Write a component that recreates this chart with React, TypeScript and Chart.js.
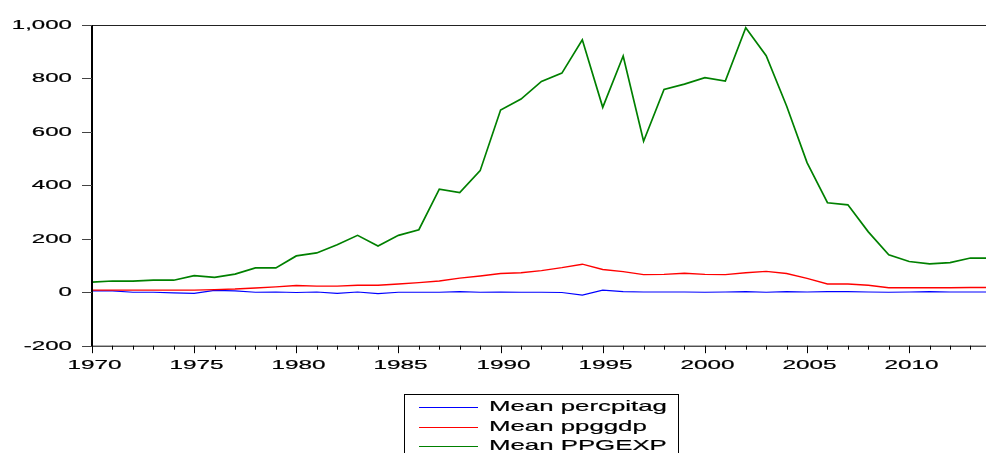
import React, { useEffect, useRef } from "react";
import { Chart, registerables } from "chart.js";

Chart.register(...registerables);

const years: number[] = [
  1970, 1971, 1972, 1973, 1974, 1975, 1976, 1977, 1978, 1979,
  1980, 1981, 1982, 1983, 1984, 1985, 1986, 1987, 1988, 1989,
  1990, 1991, 1992, 1993, 1994, 1995, 1996, 1997, 1998, 1999,
  2000, 2001, 2002, 2003, 2004, 2005, 2006, 2007, 2008, 2009,
  2010, 2011, 2012, 2013, 2014,
];

const percpitag: number[] = [
  5, 5, 0, 0, -2, -4, 7, 5, 0, 1,
  -1, 1, -4, 1, -5, 0, 0, 0, 2, 0,
  1, 0, 0, -1, -11, 8, 2, 1, 1, 1,
  0, 1, 2, 0, 2, 1, 2, 2, 1, 0,
  1, 2, 1, 1, 1,
];

const ppggdp: number[] = [
  8, 8, 8, 8, 8, 8, 10, 12, 16, 20,
  25, 23, 23, 26, 26, 31, 36, 42, 53, 61,
  70, 73, 81, 92, 105, 85, 77, 66, 67, 71,
  67, 66, 73, 78, 70, 52, 31, 31, 26, 17,
  17, 17, 17, 18, 18,
];

const ppgexp: number[] = [
  38, 42, 42, 45, 45, 62, 56, 68, 91, 91,
  136, 147, 178, 213, 173, 213, 234, 386, 373, 455,
  682, 723, 789, 820, 945, 692, 884, 565, 759, 779,
  803, 790, 990, 885, 697, 485, 335, 327, 226, 140,
  115, 106, 111, 128, 128,
];

const seriesLabels: string[] = ["Mean percpitag", "Mean ppggdp", "Mean PPGEXP"];
const seriesColors: string[] = ["#0000ff", "#ff0000", "#008000"];
const seriesWidths: number[] = [1.2, 1.4, 1.7];

const yMin = -200;
const yMax = 1000;
const yStep = 200;
const xMin = 1970;
const xMax = 2013.76;
const labelEvery = 5;

const FONT = "'Liberation Sans', Arial, sans-serif";

function stretchText(
  ctx: CanvasRenderingContext2D,
  text: string,
  x: number,
  y: number,
  align: CanvasTextAlign,
  sx: number,
  size: number
) {
  ctx.save();
  ctx.translate(x, y);
  ctx.scale(sx, 1);
  ctx.font = `${size}px ${FONT}`;
  ctx.textAlign = align;
  ctx.textBaseline = "middle";
  ctx.fillStyle = "#000";
  ctx.strokeStyle = "#000";
  ctx.lineWidth = 0.2;
  ctx.fillText(text, 0, 0);
  ctx.strokeText(text, 0, 0);
  ctx.restore();
}

const axesPlugin = {
  id: "eviewsAxes",
  afterDraw(chart: any) {
    const ctx: CanvasRenderingContext2D = chart.ctx;
    const { left, top, right, bottom } = chart.chartArea;
    const xs = chart.scales.x;
    const ys = chart.scales.y;
    ctx.save();
    ctx.strokeStyle = "#222";
    ctx.lineWidth = 1;
    ctx.beginPath();
    ctx.moveTo(left, top + 0.5);
    ctx.lineTo(right, top + 0.5);
    ctx.stroke();
    ctx.strokeStyle = "#000";
    ctx.beginPath();
    ctx.moveTo(left, bottom + 0.5);
    ctx.lineTo(right, bottom + 0.5);
    ctx.stroke();
    ctx.lineWidth = 2;
    ctx.beginPath();
    ctx.moveTo(left, top);
    ctx.lineTo(left, bottom + 1);
    ctx.stroke();
    ctx.lineWidth = 1;
    ctx.strokeStyle = "#444";
    for (const t of ys.ticks) {
      const py = Math.round(ys.getPixelForValue(t.value)) + 0.5;
      ctx.lineWidth = 1;
      ctx.strokeStyle = "#444";
      ctx.beginPath();
      ctx.moveTo(left - 10, py);
      ctx.lineTo(left, py);
      ctx.stroke();
      stretchText(ctx, Number(t.value).toLocaleString("en-US"), left - 20, py, "right", 1.85, 13);
    }
    for (const t of xs.ticks) {
      const v = t.value;
      if (!Number.isInteger(v)) continue;
      const px = Math.round(xs.getPixelForValue(v)) + 0.5;
      const major = v % labelEvery === 0;
      ctx.lineWidth = 1;
      ctx.strokeStyle = "#000";
      ctx.beginPath();
      ctx.moveTo(px, bottom);
      ctx.lineTo(px, bottom + (major ? 7.5 : 4));
      ctx.stroke();
      if (major) stretchText(ctx, String(v), px + 2, bottom + 20, "center", 1.87, 13);
    }
    ctx.restore();

    const datasets = chart.data.datasets;
    const bx = 404;
    const by = 394;
    ctx.save();
    ctx.strokeStyle = "#000";
    ctx.lineWidth = 1;
    ctx.strokeRect(bx + 0.5, by + 0.5, 274, 80);
    datasets.forEach((ds: any, i: number) => {
      const ry = 407 + i * 19.5;
      ctx.strokeStyle = ds.borderColor;
      ctx.lineWidth = 1;
      ctx.beginPath();
      ctx.moveTo(419, Math.round(ry) + 0.5);
      ctx.lineTo(478, Math.round(ry) + 0.5);
      ctx.stroke();
      stretchText(ctx, ds.label, 489, ry, "left", 1.72, 15);
    });
    ctx.restore();
  },
};

export default function App() {
  const ref = useRef<HTMLCanvasElement | null>(null);
  useEffect(() => {
    if (!ref.current) return;
    const seriesData = [percpitag, ppggdp, ppgexp];
    const chart = new Chart(ref.current, {
      type: "line",
      data: {
        datasets: seriesData.map((arr, i) => ({
          label: seriesLabels[i],
          data: arr.map((v, j) => ({ x: years[j], y: v })),
          borderColor: seriesColors[i],
          backgroundColor: seriesColors[i],
          borderWidth: seriesWidths[i],
          pointRadius: 0,
          tension: 0,
          fill: false,
          order: 3 - i,
        })),
      },
      options: {
        animation: false,
        responsive: false,
        devicePixelRatio: 1,
        layout: { padding: { top: 25, right: 0, left: 0, bottom: 0 } },
        plugins: { legend: { display: false }, tooltip: { enabled: false } },
        scales: {
          x: {
            type: "linear",
            min: xMin,
            max: xMax,
            ticks: { display: false, stepSize: 1, includeBounds: false },
            grid: { display: false },
            border: { display: false },
            afterFit: (s: any) => {
              s.height = 107.3;
            },
          },
          y: {
            min: yMin,
            max: yMax,
            ticks: { display: false, stepSize: yStep },
            grid: { display: false },
            border: { display: false },
            afterFit: (s: any) => {
              s.width = 92;
            },
          },
        },
      },
      plugins: [axesPlugin],
    });
    return () => chart.destroy();
  }, []);
  return (
    <div style={{ position: "fixed", left: 0, top: 0, width: 986, height: 453, background: "#fff" }}>
      <canvas ref={ref} width={986} height={453} style={{ display: "block" }} />
    </div>
  );
}
